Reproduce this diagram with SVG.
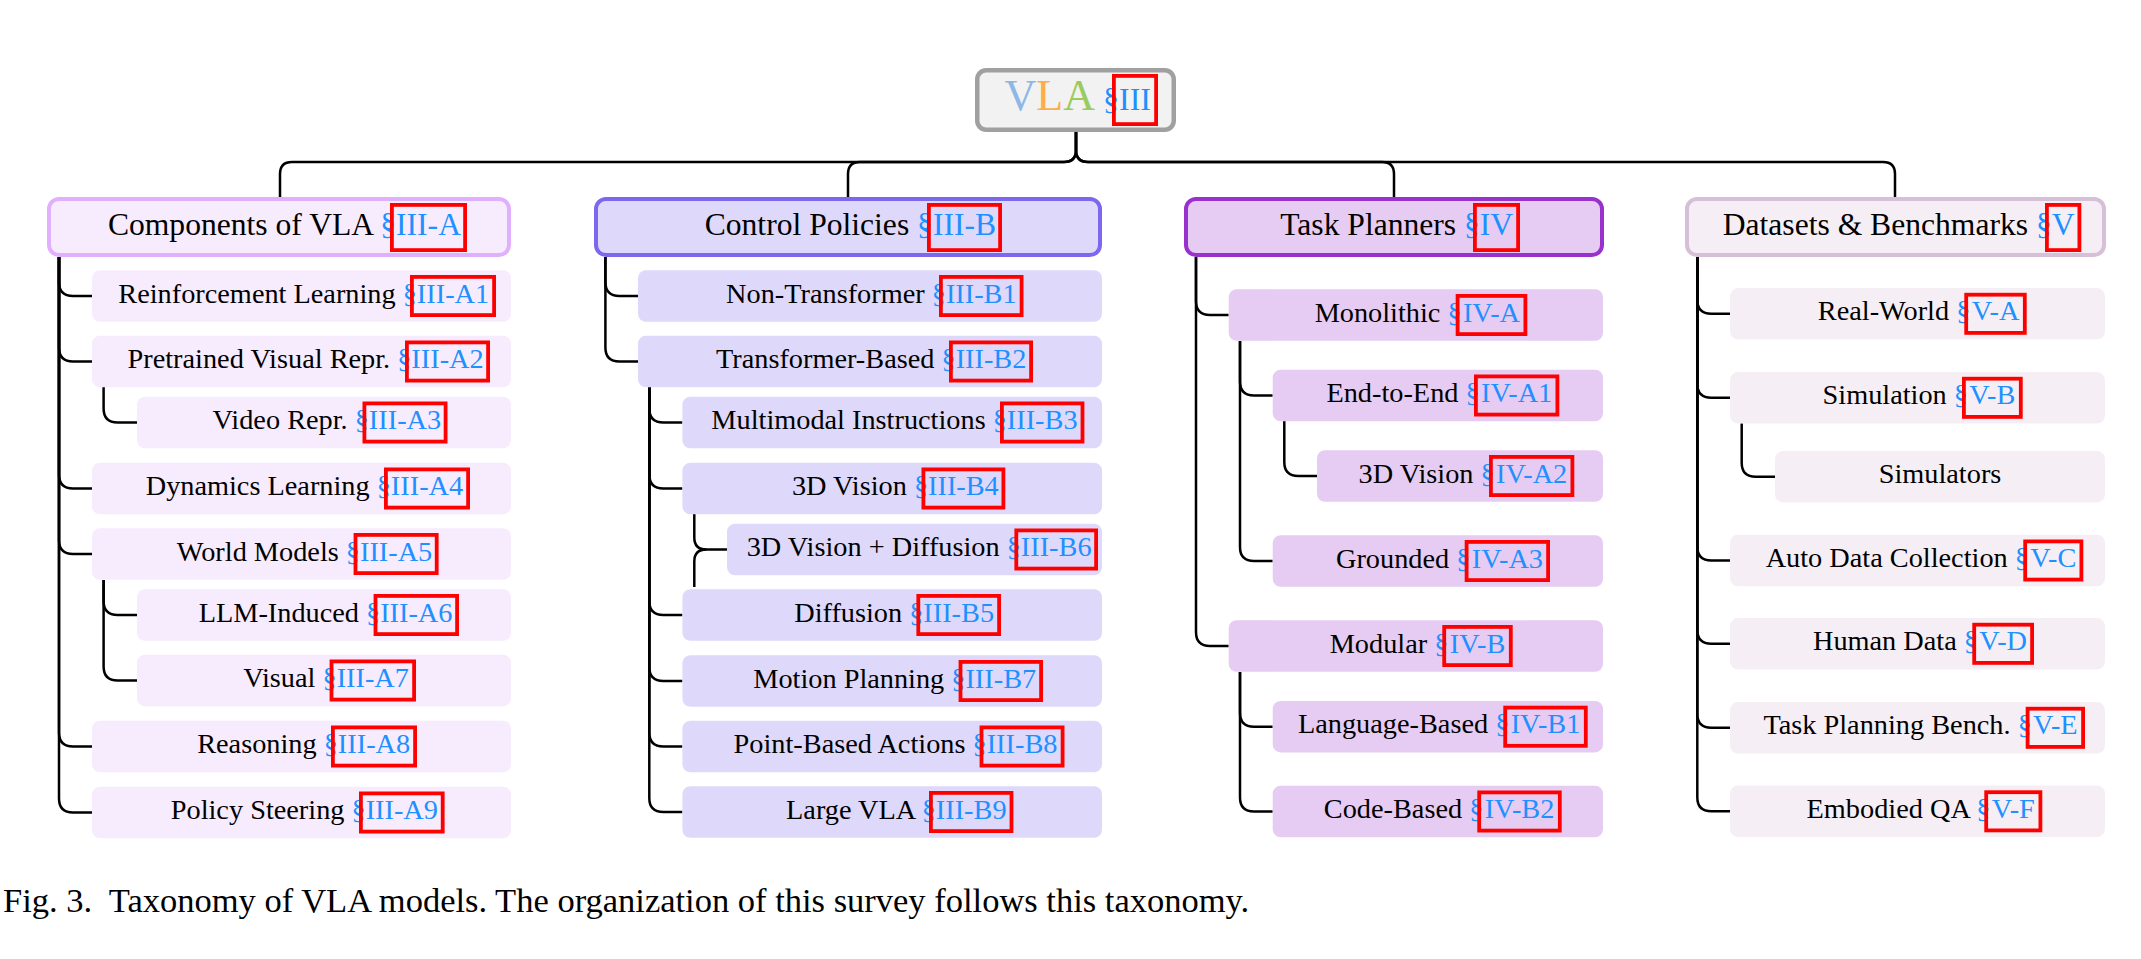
<svg xmlns="http://www.w3.org/2000/svg" width="2141" height="959" viewBox="0 0 2141 959">
<style>
text{font-family:"Liberation Serif","Times New Roman",serif;fill:#000}
.lbl{font-size:28.3px}
.hdr{font-size:31.6px}
.ref{fill:#1E90FF}
.red{fill:none;stroke:#FF0000;stroke-width:3.8}
.edge{fill:none;stroke:#000;stroke-width:2.5}
.c1{fill:#F7EBFE}
.c2{fill:#DED9FA}
.c3{fill:#E6CCF2}
.c4{fill:#F5EFF5}
.h1{fill:#F7EBFE;stroke:#E0B0FF;stroke-width:4}
.h2{fill:#DED9FA;stroke:#7B68EE;stroke-width:4}
.h3{fill:#E6CCF2;stroke:#9932CC;stroke-width:4}
.h4{fill:#F5EFF5;stroke:#D8BFD8;stroke-width:4}
</style>
<g id="connectors">
<path class="edge" d="M1076,132 V150 Q1076,162 1064,162 H292 Q280,162 280,174 V197"/>
<path class="edge" d="M1076,132 V150 Q1076,162 1064,162 H860 Q848,162 848,174 V197"/>
<path class="edge" d="M1076,132 V150 Q1076,162 1088,162 H1382 Q1394,162 1394,174 V197"/>
<path class="edge" d="M1076,132 V150 Q1076,162 1088,162 H1883 Q1895,162 1895,174 V197"/>
<!-- column 1 -->
<path class="edge" d="M59,257 V282 Q59,296 73,296 H92"/>
<path class="edge" d="M59,257 V347.5 Q59,361.5 73,361.5 H92"/>
<path class="edge" d="M59,257 V474.5 Q59,488.5 73,488.5 H92"/>
<path class="edge" d="M59,257 V540 Q59,554 73,554 H92"/>
<path class="edge" d="M59,257 V732.5 Q59,746.5 73,746.5 H92"/>
<path class="edge" d="M59,257 V798.5 Q59,812.5 73,812.5 H92"/>
<path class="edge" d="M103.6,387 V408.5 Q103.6,422.5 117.6,422.5 H137"/>
<path class="edge" d="M103.6,580 V601 Q103.6,615 117.6,615 H137"/>
<path class="edge" d="M103.6,580 V666.5 Q103.6,680.5 117.6,680.5 H137"/>
<!-- column 2 -->
<path class="edge" d="M605.4,257 V282 Q605.4,296 619.4,296 H638"/>
<path class="edge" d="M605.4,257 V347.5 Q605.4,361.5 619.4,361.5 H638"/>
<path class="edge" d="M649.3,387 V408.5 Q649.3,422.5 663.3,422.5 H682.4"/>
<path class="edge" d="M649.3,387 V474.5 Q649.3,488.5 663.3,488.5 H682.4"/>
<path class="edge" d="M649.3,387 V601 Q649.3,615 663.3,615 H682.4"/>
<path class="edge" d="M649.3,387 V667 Q649.3,681 663.3,681 H682.4"/>
<path class="edge" d="M649.3,387 V732.5 Q649.3,746.5 663.3,746.5 H682.4"/>
<path class="edge" d="M649.3,387 V798 Q649.3,812 663.3,812 H682.4"/>
<path class="edge" d="M694.3,514 V537.5 Q694.3,549.5 706.3,549.5 H727"/>
<path class="edge" d="M694.3,587 V561.5 Q694.3,549.5 706.3,549.5"/>
<!-- column 3 -->
<path class="edge" d="M1196,257 V301 Q1196,315 1210,315 H1228.7"/>
<path class="edge" d="M1196,257 V632 Q1196,646 1210,646 H1228.7"/>
<path class="edge" d="M1240,341 V381.5 Q1240,395.5 1254,395.5 H1272.7"/>
<path class="edge" d="M1240,341 V547 Q1240,561 1254,561 H1272.7"/>
<path class="edge" d="M1284.3,421 V462 Q1284.3,476 1298.3,476 H1317"/>
<path class="edge" d="M1240,672 V712.7 Q1240,726.7 1254,726.7 H1272.7"/>
<path class="edge" d="M1240,672 V797.5 Q1240,811.5 1254,811.5 H1272.7"/>
<!-- column 4 -->
<path class="edge" d="M1697.3,257 V299.8 Q1697.3,313.8 1711.3,313.8 H1730"/>
<path class="edge" d="M1697.3,257 V383.8 Q1697.3,397.8 1711.3,397.8 H1730"/>
<path class="edge" d="M1697.3,257 V546.5 Q1697.3,560.5 1711.3,560.5 H1730"/>
<path class="edge" d="M1697.3,257 V629.8 Q1697.3,643.8 1711.3,643.8 H1730"/>
<path class="edge" d="M1697.3,257 V713.8 Q1697.3,727.8 1711.3,727.8 H1730"/>
<path class="edge" d="M1697.3,257 V797.3 Q1697.3,811.3 1711.3,811.3 H1730"/>
<path class="edge" d="M1741.7,423.3 V462.7 Q1741.7,476.7 1755.7,476.7 H1775"/>
</g>

<g id="root">
<rect x="977.25" y="70.25" width="196.5" height="59.5" rx="9" fill="#F2F2F2" stroke="#A0A0A0" stroke-width="4.5"/>
<text x="1119" y="110" text-anchor="end" style="font-size:44px"><tspan fill="#8CB8E6">V</tspan><tspan fill="#FFAD47">L</tspan><tspan fill="#9ACB5E">A</tspan><tspan class="ref" style="font-size:32px"> §</tspan></text>
<text class="ref" x="1135" y="110" text-anchor="middle" style="font-size:32px">III</text>
<rect class="red" x="1113.9" y="75.9" width="42.2" height="48.2"/>
</g>

<!-- headers -->
<g id="components">
<rect class="h1" x="49" y="199" width="460" height="56" rx="10"/>
<text class="hdr" x="396.05" y="235" text-anchor="end">Components of VLA <tspan class="ref">§</tspan></text>
<text class="hdr ref" x="428.5" y="235" text-anchor="middle">III-A</text>
<rect class="red" x="391.9" y="204.9" width="73.2" height="45.2"/>
</g>
<g id="control-policies">
<rect class="h2" x="596" y="199" width="504" height="56" rx="10"/>
<text class="hdr" x="932.9" y="235" text-anchor="end">Control Policies <tspan class="ref">§</tspan></text>
<text class="hdr ref" x="964.5" y="235" text-anchor="middle">III-B</text>
<rect class="red" x="928.9" y="204.9" width="71.2" height="45.2"/>
</g>
<g id="task-planners">
<rect class="h3" x="1186" y="199" width="416" height="56" rx="10"/>
<text class="hdr" x="1479.85" y="235" text-anchor="end">Task Planners <tspan class="ref">§</tspan></text>
<text class="hdr ref" x="1496.5" y="235" text-anchor="middle">IV</text>
<rect class="red" x="1474.9" y="204.9" width="43.2" height="45.2"/>
</g>
<g id="datasets">
<rect class="h4" x="1687" y="199" width="417" height="56" rx="10"/>
<text class="hdr" x="2051.75" y="235" text-anchor="end">Datasets &amp; Benchmarks <tspan class="ref">§</tspan></text>
<text class="hdr ref" x="2063.15" y="235" text-anchor="middle">V</text>
<rect class="red" x="2046.9" y="204.9" width="32.5" height="45.2"/>
</g>

<!-- column 1 children -->
<g id="rl">
<rect class="c1" x="92" y="270.25" width="419" height="51.5" rx="8"/>
<text class="lbl" x="416.9" y="302.5" text-anchor="end">Reinforcement Learning <tspan class="ref">§</tspan></text>
<text class="lbl ref" x="453" y="302.5" text-anchor="middle">III-A1</text>
<rect class="red" x="411.9" y="276.9" width="82.2" height="38.2"/>
</g>
<g id="pvr">
<rect class="c1" x="92" y="335.75" width="419" height="51.5" rx="8"/>
<text class="lbl" x="411.4" y="368" text-anchor="end">Pretrained Visual Repr. <tspan class="ref">§</tspan></text>
<text class="lbl ref" x="447.5" y="368" text-anchor="middle">III-A2</text>
<rect class="red" x="406.9" y="342.4" width="81.2" height="38.2"/>
</g>
<g id="video">
<rect class="c1" x="137" y="396.75" width="374" height="51.5" rx="8"/>
<text class="lbl" x="368.9" y="429" text-anchor="end">Video Repr. <tspan class="ref">§</tspan></text>
<text class="lbl ref" x="405" y="429" text-anchor="middle">III-A3</text>
<rect class="red" x="364.4" y="403.4" width="81.2" height="38.2"/>
</g>
<g id="dynamics">
<rect class="c1" x="92" y="462.75" width="419" height="51.5" rx="8"/>
<text class="lbl" x="390.9" y="495" text-anchor="end">Dynamics Learning <tspan class="ref">§</tspan></text>
<text class="lbl ref" x="427" y="495" text-anchor="middle">III-A4</text>
<rect class="red" x="385.9" y="469.4" width="82.2" height="38.2"/>
</g>
<g id="world-models">
<rect class="c1" x="92" y="528.25" width="419" height="51.5" rx="8"/>
<text class="lbl" x="360" y="560.5" text-anchor="end">World Models <tspan class="ref">§</tspan></text>
<text class="lbl ref" x="396.1" y="560.5" text-anchor="middle">III-A5</text>
<rect class="red" x="355.5" y="534.9" width="81.2" height="38.2"/>
</g>
<g id="llm-induced">
<rect class="c1" x="137" y="589.25" width="374" height="51.5" rx="8"/>
<text class="lbl" x="380.2" y="621.5" text-anchor="end">LLM-Induced <tspan class="ref">§</tspan></text>
<text class="lbl ref" x="416.3" y="621.5" text-anchor="middle">III-A6</text>
<rect class="red" x="375.5" y="595.9" width="81.6" height="38.2"/>
</g>
<g id="visual">
<rect class="c1" x="137" y="654.75" width="374" height="51.5" rx="8"/>
<text class="lbl" x="336.7" y="687" text-anchor="end">Visual <tspan class="ref">§</tspan></text>
<text class="lbl ref" x="372.8" y="687" text-anchor="middle">III-A7</text>
<rect class="red" x="331.5" y="661.4" width="82.6" height="38.2"/>
</g>
<g id="reasoning">
<rect class="c1" x="92" y="720.75" width="419" height="51.5" rx="8"/>
<text class="lbl" x="337.9" y="753" text-anchor="end">Reasoning <tspan class="ref">§</tspan></text>
<text class="lbl ref" x="374" y="753" text-anchor="middle">III-A8</text>
<rect class="red" x="332.9" y="727.4" width="82.2" height="38.2"/>
</g>
<g id="policy-steering">
<rect class="c1" x="92" y="786.75" width="419" height="51.5" rx="8"/>
<text class="lbl" x="365.7" y="819" text-anchor="end">Policy Steering <tspan class="ref">§</tspan></text>
<text class="lbl ref" x="401.8" y="819" text-anchor="middle">III-A9</text>
<rect class="red" x="360.9" y="793.4" width="81.8" height="38.2"/>
</g>

<!-- column 2 children -->
<g id="non-transformer">
<rect class="c2" x="638" y="270.25" width="464" height="51.5" rx="8"/>
<text class="lbl" x="945.9" y="302.5" text-anchor="end">Non-Transformer <tspan class="ref">§</tspan></text>
<text class="lbl ref" x="981.25" y="302.5" text-anchor="middle">III-B1</text>
<rect class="red" x="940.9" y="276.9" width="80.7" height="38.2"/>
</g>
<g id="transformer-based">
<rect class="c2" x="638" y="335.75" width="464" height="51.5" rx="8"/>
<text class="lbl" x="955.7" y="368" text-anchor="end">Transformer-Based <tspan class="ref">§</tspan></text>
<text class="lbl ref" x="991" y="368" text-anchor="middle">III-B2</text>
<rect class="red" x="950.9" y="342.4" width="80.2" height="38.2"/>
</g>
<g id="multimodal">
<rect class="c2" x="682.4" y="396.75" width="419.6" height="51.5" rx="8"/>
<text class="lbl" x="1006.9" y="429" text-anchor="end">Multimodal Instructions <tspan class="ref">§</tspan></text>
<text class="lbl ref" x="1042.2" y="429" text-anchor="middle">III-B3</text>
<rect class="red" x="1001.9" y="403.4" width="80.6" height="38.2"/>
</g>
<g id="vision3d">
<rect class="c2" x="682.4" y="462.75" width="419.6" height="51.5" rx="8"/>
<text class="lbl" x="928.1" y="495" text-anchor="end">3D Vision <tspan class="ref">§</tspan></text>
<text class="lbl ref" x="963.4" y="495" text-anchor="middle">III-B4</text>
<rect class="red" x="923.4" y="469.4" width="80" height="38.2"/>
</g>
<g id="vision3d-diffusion">
<rect class="c2" x="727" y="523.75" width="375" height="51.5" rx="8"/>
<text class="lbl" x="1020.9" y="556" text-anchor="end">3D Vision + Diffusion <tspan class="ref">§</tspan></text>
<text class="lbl ref" x="1056.2" y="556" text-anchor="middle">III-B6</text>
<rect class="red" x="1016.3" y="530.4" width="79.8" height="38.2"/>
</g>
<g id="diffusion">
<rect class="c2" x="682.4" y="589.25" width="419.6" height="51.5" rx="8"/>
<text class="lbl" x="923.4" y="621.5" text-anchor="end">Diffusion <tspan class="ref">§</tspan></text>
<text class="lbl ref" x="958.7" y="621.5" text-anchor="middle">III-B5</text>
<rect class="red" x="918.3" y="595.9" width="80.8" height="38.2"/>
</g>
<g id="motion-planning">
<rect class="c2" x="682.4" y="655.25" width="419.6" height="51.5" rx="8"/>
<text class="lbl" x="965.5" y="687.5" text-anchor="end">Motion Planning <tspan class="ref">§</tspan></text>
<text class="lbl ref" x="1000.8" y="687.5" text-anchor="middle">III-B7</text>
<rect class="red" x="960.5" y="661.9" width="80.6" height="38.2"/>
</g>
<g id="point-based">
<rect class="c2" x="682.4" y="720.75" width="419.6" height="51.5" rx="8"/>
<text class="lbl" x="986.7" y="753" text-anchor="end">Point-Based Actions <tspan class="ref">§</tspan></text>
<text class="lbl ref" x="1022.05" y="753" text-anchor="middle">III-B8</text>
<rect class="red" x="981.5" y="727.4" width="81.1" height="38.2"/>
</g>
<g id="large-vla">
<rect class="c2" x="682.4" y="786.25" width="419.6" height="51.5" rx="8"/>
<text class="lbl" x="935.9" y="818.5" text-anchor="end">Large VLA <tspan class="ref">§</tspan></text>
<text class="lbl ref" x="971.2" y="818.5" text-anchor="middle">III-B9</text>
<rect class="red" x="930.9" y="792.9" width="80.6" height="38.2"/>
</g>

<!-- column 3 children -->
<g id="monolithic">
<rect class="c3" x="1228.7" y="289.25" width="374.3" height="51.5" rx="8"/>
<text class="lbl" x="1461.65" y="321.5" text-anchor="end">Monolithic <tspan class="ref">§</tspan></text>
<text class="lbl ref" x="1491.5" y="321.5" text-anchor="middle">IV-A</text>
<rect class="red" x="1457.6" y="295.9" width="67.8" height="38.2"/>
</g>
<g id="end-to-end">
<rect class="c3" x="1272.7" y="369.75" width="330.3" height="51.5" rx="8"/>
<text class="lbl" x="1479.7" y="402" text-anchor="end">End-to-End <tspan class="ref">§</tspan></text>
<text class="lbl ref" x="1516.65" y="402" text-anchor="middle">IV-A1</text>
<rect class="red" x="1475.9" y="376.4" width="81.5" height="38.2"/>
</g>
<g id="vision3d-planner">
<rect class="c3" x="1317" y="450.25" width="286" height="51.5" rx="8"/>
<text class="lbl" x="1494.7" y="482.5" text-anchor="end">3D Vision <tspan class="ref">§</tspan></text>
<text class="lbl ref" x="1531.65" y="482.5" text-anchor="middle">IV-A2</text>
<rect class="red" x="1490.9" y="456.9" width="81.5" height="38.2"/>
</g>
<g id="grounded">
<rect class="c3" x="1272.7" y="535.25" width="330.3" height="51.5" rx="8"/>
<text class="lbl" x="1470.4" y="567.5" text-anchor="end">Grounded <tspan class="ref">§</tspan></text>
<text class="lbl ref" x="1507.35" y="567.5" text-anchor="middle">IV-A3</text>
<rect class="red" x="1466.6" y="541.9" width="81.5" height="38.2"/>
</g>
<g id="modular">
<rect class="c3" x="1228.7" y="620.25" width="374.3" height="51.5" rx="8"/>
<text class="lbl" x="1448.4" y="652.5" text-anchor="end">Modular <tspan class="ref">§</tspan></text>
<text class="lbl ref" x="1477.5" y="652.5" text-anchor="middle">IV-B</text>
<rect class="red" x="1444.2" y="626.9" width="66.6" height="38.2"/>
</g>
<g id="language-based">
<rect class="c3" x="1272.7" y="700.95" width="330.3" height="51.5" rx="8"/>
<text class="lbl" x="1509.35" y="733.2" text-anchor="end">Language-Based <tspan class="ref">§</tspan></text>
<text class="lbl ref" x="1545.5" y="733.2" text-anchor="middle">IV-B1</text>
<rect class="red" x="1505.2" y="707.6" width="80.6" height="38.2"/>
</g>
<g id="code-based">
<rect class="c3" x="1272.7" y="785.75" width="330.3" height="51.5" rx="8"/>
<text class="lbl" x="1483.35" y="818" text-anchor="end">Code-Based <tspan class="ref">§</tspan></text>
<text class="lbl ref" x="1519.5" y="818" text-anchor="middle">IV-B2</text>
<rect class="red" x="1479.2" y="792.4" width="80.6" height="38.2"/>
</g>

<!-- column 4 children -->
<g id="real-world">
<rect class="c4" x="1730" y="288.05" width="375" height="51.5" rx="8"/>
<text class="lbl" x="1970.35" y="320.3" text-anchor="end">Real-World <tspan class="ref">§</tspan></text>
<text class="lbl ref" x="1995.5" y="320.3" text-anchor="middle">V-A</text>
<rect class="red" x="1966.2" y="294.7" width="58.6" height="38.2"/>
</g>
<g id="simulation">
<rect class="c4" x="1730" y="372.05" width="375" height="51.5" rx="8"/>
<text class="lbl" x="1968" y="404.3" text-anchor="end">Simulation <tspan class="ref">§</tspan></text>
<text class="lbl ref" x="1992.35" y="404.3" text-anchor="middle">V-B</text>
<rect class="red" x="1963.9" y="378.7" width="56.9" height="38.2"/>
</g>
<g id="simulators">
<rect class="c4" x="1775" y="450.95" width="330" height="51.5" rx="8"/>
<text class="lbl" x="1940" y="483.2" text-anchor="middle">Simulators</text>
</g>
<g id="auto-data">
<rect class="c4" x="1730" y="534.75" width="375" height="51.5" rx="8"/>
<text class="lbl" x="2028.95" y="567" text-anchor="end">Auto Data Collection <tspan class="ref">§</tspan></text>
<text class="lbl ref" x="2053.3" y="567" text-anchor="middle">V-C</text>
<rect class="red" x="2025.2" y="541.4" width="56.2" height="38.2"/>
</g>
<g id="human-data">
<rect class="c4" x="1730" y="618.05" width="375" height="51.5" rx="8"/>
<text class="lbl" x="1978" y="650.3" text-anchor="end">Human Data <tspan class="ref">§</tspan></text>
<text class="lbl ref" x="2003.15" y="650.3" text-anchor="middle">V-D</text>
<rect class="red" x="1974.2" y="624.7" width="57.9" height="38.2"/>
</g>
<g id="task-planning-bench">
<rect class="c4" x="1730" y="702.05" width="375" height="51.5" rx="8"/>
<text class="lbl" x="2031.8" y="734.3" text-anchor="end">Task Planning Bench. <tspan class="ref">§</tspan></text>
<text class="lbl ref" x="2055.35" y="734.3" text-anchor="middle">V-E</text>
<rect class="red" x="2027.6" y="708.7" width="55.5" height="38.2"/>
</g>
<g id="embodied-qa">
<rect class="c4" x="1730" y="785.55" width="375" height="51.5" rx="8"/>
<text class="lbl" x="1990.5" y="817.8" text-anchor="end">Embodied QA <tspan class="ref">§</tspan></text>
<text class="lbl ref" x="2013.3" y="817.8" text-anchor="middle">V-F</text>
<rect class="red" x="1986.2" y="792.2" width="54.2" height="38.2"/>
</g>

<text id="caption" x="3" y="912" style="font-size:34.5px" xml:space="preserve">Fig. 3.  Taxonomy of VLA models. The organization of this survey follows this taxonomy.</text>
</svg>
